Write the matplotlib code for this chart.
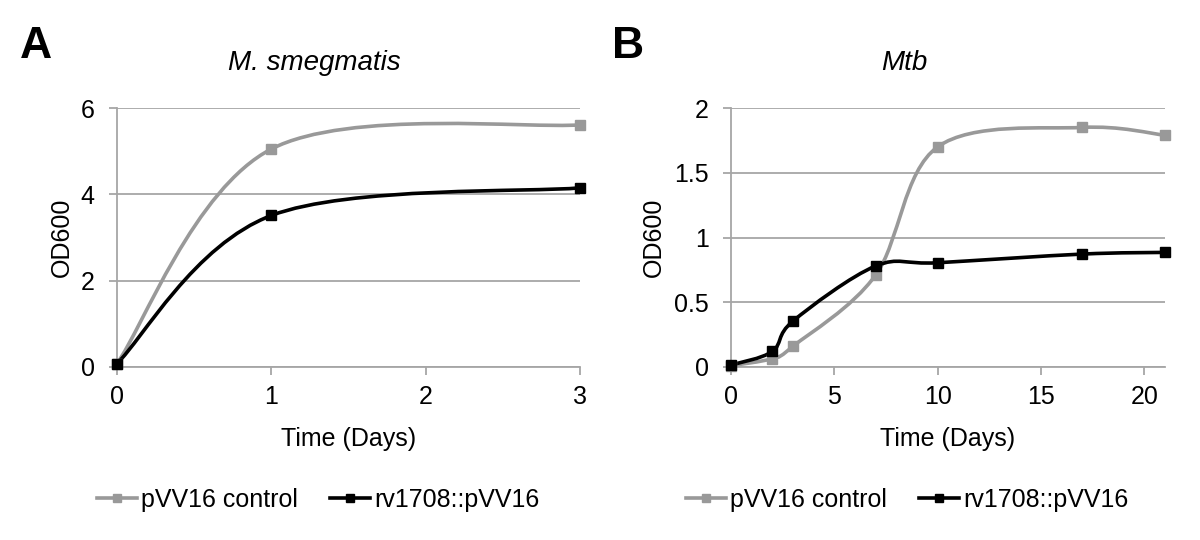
import numpy as np
import matplotlib.pyplot as plt
from matplotlib.path import Path
from matplotlib.patches import PathPatch
from matplotlib.lines import Line2D

plt.rcParams['font.family'] = ['Liberation Sans', 'DejaVu Sans']

# Panel A: M. smegmatis
days_a = [0, 1, 3]
ctrl_a = [0.08, 5.05, 5.61]
rv_a = [0.08, 3.51, 4.15]

# Panel B: Mtb
days_b = [0, 2, 3, 7, 10, 17, 21]
ctrl_b = [0.01, 0.065, 0.16, 0.71, 1.70, 1.85, 1.79]
rv_b = [0.015, 0.12, 0.355, 0.78, 0.805, 0.872, 0.885]

labels = ["pVV16 control", "rv1708::pVV16"]
GRAY = "#999999"
GRID = "#a6a6a6"
FS = 18


def smooth_path(x, y):
    # Excel-like smoothed line: Catmull-Rom as cubic Bezier segments
    p = np.column_stack([x, y]).astype(float)
    n = len(p)
    verts = [p[0]]
    codes = [Path.MOVETO]
    for i in range(n - 1):
        p0 = p[i - 1] if i > 0 else p[i]
        p3 = p[i + 2] if i + 2 < n else p[i + 1]
        c1 = p[i] + (p[i + 1] - p0) / 6
        c2 = p[i + 1] - (p3 - p[i]) / 6
        verts += [c1, c2, p[i + 1]]
        codes += [Path.CURVE4] * 3
    return Path(verts, codes)


def panel(ax, x, series, xlim, ylim, xticks, yticks, ylab_x):
    colors = [GRAY, "black"]
    for y, c in zip(series, colors):
        ax.add_patch(PathPatch(smooth_path(x, y), fill=False, edgecolor=c, lw=2.6,
                               capstyle="round", zorder=3))
        ax.plot(x, y, ls="none", marker="s", ms=6.5, color=c, zorder=4, clip_on=False)
    ax.set_xlim(*xlim)
    ax.set_ylim(*ylim)
    ax.set_xticks(xticks)
    ax.set_yticks(yticks)
    ax.set_yticklabels([f"{t:g}" for t in yticks])
    ax.grid(axis="y", color=GRID, lw=1.3)
    ax.set_axisbelow(True)
    for s in ["top", "right"]:
        ax.spines[s].set_visible(False)
    for s in ["left", "bottom"]:
        ax.spines[s].set_color(GRID)
        ax.spines[s].set_linewidth(1.3)
    ax.tick_params(axis="both", colors=GRID, labelcolor="black", labelsize=FS, length=6, width=1.3)
    ax.tick_params(axis="x", pad=7)
    ax.tick_params(axis="y", pad=10)
    ax.set_xlabel("Time (Days)", fontsize=FS)
    ax.set_ylabel("OD600", fontsize=FS)
    ax.xaxis.set_label_coords(0.5, -0.278)
    ax.xaxis.label.set_va("center")
    ax.yaxis.set_label_coords(ylab_x, 0.5)
    ax.yaxis.label.set_va("center")


fig = plt.figure(figsize=(12, 5.4), dpi=100)
ax_a = fig.add_axes([117 / 1200, 1 - 367 / 540, 463 / 1200, 259 / 540])
ax_b = fig.add_axes([731 / 1200, 1 - 367 / 540, 434 / 1200, 259 / 540])

panel(ax_a, days_a, [ctrl_a, rv_a], (0, 3), (0, 6), [0, 1, 2, 3], [0, 2, 4, 6], -0.119)
panel(ax_b, days_b, [ctrl_b, rv_b], (0, 21), (0, 2), [0, 5, 10, 15, 20], [0, 0.5, 1, 1.5, 2], -0.177)

fig.text(314 / 1200, 1 - 63 / 540, "M. smegmatis", fontsize=20, style="italic", ha="center", va="center")
fig.text(904 / 1200, 1 - 63 / 540, "Mtb", fontsize=20, style="italic", ha="center", va="center")

fig.text(20 / 1200, 1 - 58 / 540, "A", fontsize=32, fontweight="bold", va="baseline")
fig.text(612 / 1200, 1 - 58 / 540, "B", fontsize=32, fontweight="bold", va="baseline")

handles = [Line2D([], [], color=c, lw=2.6, marker="s", ms=6) for c in [GRAY, "black"]]
for cx in [318, 907]:
    fig.legend(handles, labels, loc="center", bbox_to_anchor=(cx / 1200, 1 - 500 / 540), ncol=2,
               frameon=False, fontsize=FS, handlelength=1.6, handletextpad=0.15,
               columnspacing=1.3, borderpad=0)

fig.savefig("out.png", dpi=100)
